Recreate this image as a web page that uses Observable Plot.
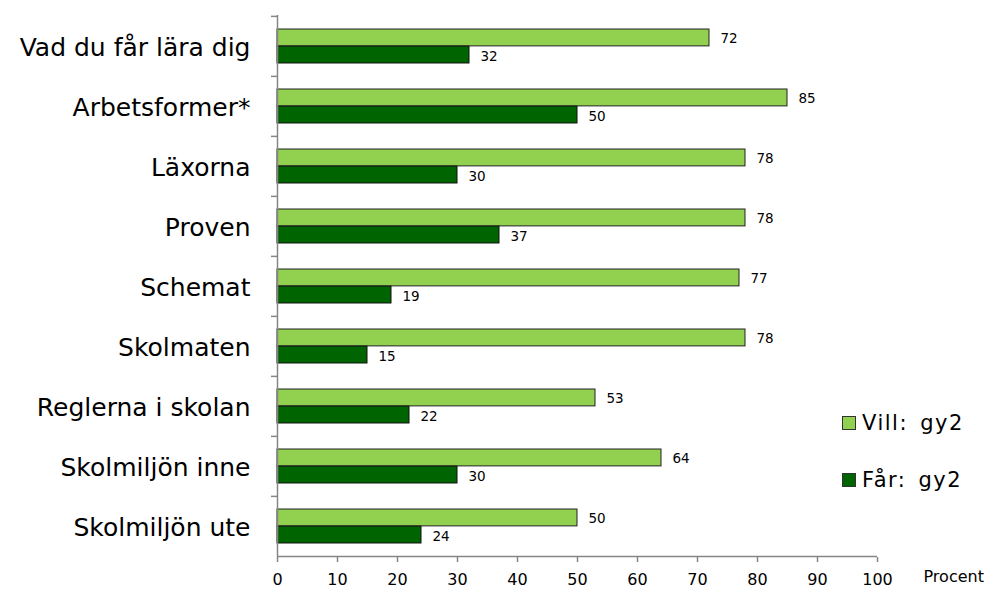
<!DOCTYPE html>
<html><head><meta charset="utf-8">
<script src="https://cdn.jsdelivr.net/npm/d3@7"></script>
<script src="https://cdn.jsdelivr.net/npm/@observablehq/plot@0.6"></script>
<style>
body{margin:0;background:#fff;font-family:"DejaVu Sans",Verdana,sans-serif;}
#wrap{position:relative;width:992px;height:590px;}
.leg{position:absolute;left:842px;font-size:21px;letter-spacing:1.5px;word-spacing:4px;color:#000;display:flex;align-items:center;white-space:nowrap;}
.sw{width:12px;height:12px;border:1px solid #333;margin-right:6px;display:inline-block;}
</style></head>
<body><div id="wrap"></div>
<script>
const categories = ["Vad du får lära dig","Arbetsformer*","Läxorna","Proven","Schemat","Skolmaten","Reglerna i skolan","Skolmiljön inne","Skolmiljön ute"];
const villValues = [72,85,78,78,77,78,53,64,50];
const farValues  = [32,50,30,37,19,15,22,30,24];
const seriesNames = ["Vill: gy2","Får: gy2"];
const seriesColors = ["#92D050","#006400"];
const xTicks = [0,10,20,30,40,50,60,70,80,90,100];
const axisTitle = "Procent";

const vill = categories.map((c,i)=>({cat:c, v:villValues[i]}));
const far  = categories.map((c,i)=>({cat:c, v:farValues[i]}));
const font = "DejaVu Sans, Verdana, sans-serif";

const plotTop = 15, plotBottom = 557;
const band = (plotBottom - plotTop) / categories.length;
const axisGray = "#868686";

const chart = Plot.plot({
  width: 992, height: 590,
  marginLeft: 277, marginRight: 115, marginTop: plotTop, marginBottom: 590 - plotBottom,
  style: {fontFamily: font, color: "#000", background: "#fff"},
  x: {domain: [0,100]},
  y: {domain: categories, padding: 0},
  marks: [
    Plot.barX(vill, {x: "v", y: "cat", fill: seriesColors[0], stroke: "#222", strokeWidth: 1,
      insetTop: band*0.216, insetBottom: band*0.5}),
    Plot.barX(far, {x: "v", y: "cat", fill: seriesColors[1], stroke: "#111", strokeWidth: 1,
      insetTop: band*0.5, insetBottom: band*0.216}),
    Plot.text(vill, {x: "v", y: "cat", text: "v", textAnchor: "start", dx: 11, dy: -band*0.14 + 1, fontSize: 13.5}),
    Plot.text(far, {x: "v", y: "cat", text: "v", textAnchor: "start", dx: 11, dy: band*0.14 + 1.5, fontSize: 13.5}),
    Plot.axisY({tickSize: 0, tickPadding: 27, fontSize: 25, letterSpacing: 0.6, dy: 1, label: null}),
    Plot.ruleY(categories, {y: d=>d, dy: -band/2, x1: -1, x2: 0, stroke: axisGray, strokeWidth: 1.5}),
    Plot.axisX({ticks: xTicks, tickSize: 5, tickPadding: 11, fontSize: 16, letterSpacing: 0.6, label: null, stroke: axisGray, strokeWidth: 1.5}),
    Plot.ruleX([0], {stroke: axisGray, strokeWidth: 1.5}),
    Plot.ruleY([categories[categories.length-1]], {y: d=>d, dy: band/2, stroke: axisGray, strokeWidth: 1.5}),
    Plot.text([axisTitle], {frameAnchor: "bottom-right", textAnchor: "start", dx: 46, dy: 24, fontSize: 16, letterSpacing: 1})
  ]
});
const wrap = document.getElementById("wrap");
wrap.appendChild(chart);
seriesNames.forEach((n,i)=>{
  const d = document.createElement("div");
  d.className = "leg";
  d.style.top = (411 + i*57) + "px";
  d.innerHTML = `<span class="sw" style="background:${seriesColors[i]}"></span>${n}`;
  wrap.appendChild(d);
});
</script></body></html>
